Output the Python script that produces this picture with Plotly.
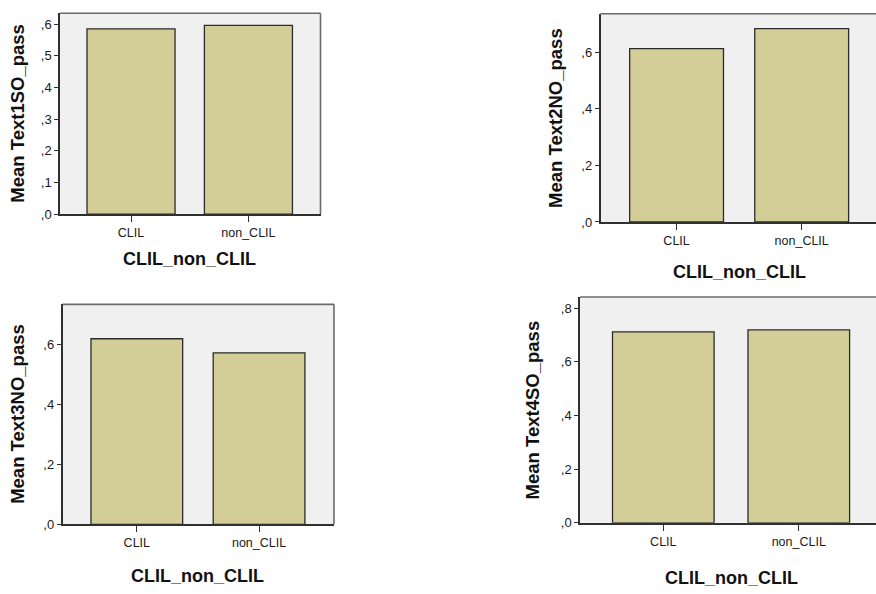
import plotly.graph_objects as go

W, H = 876, 594

categories = ["CLIL", "non_CLIL"]
text1_means = [0.585, 0.596]
text2_means = [0.612, 0.683]
text3_means = [0.620, 0.573]
text4_means = [0.712, 0.719]
y_titles = ["Mean Text1SO_pass", "Mean Text2NO_pass", "Mean Text3NO_pass", "Mean Text4SO_pass"]
x_title = "CLIL_non_CLIL"
tick_sets = [
    [0, 0.1, 0.2, 0.3, 0.4, 0.5, 0.6],
    [0, 0.2, 0.4, 0.6],
    [0, 0.2, 0.4, 0.6],
    [0, 0.2, 0.4, 0.6, 0.8],
]
series = [text1_means, text2_means, text3_means, text4_means]

# panel geometry in pixels: left, right, top, bottom, xrange, ymax, ytitle_x, xtitle_y, right_border
panels = [
    dict(l=60, r=320.5, t=13.5, b=217, xr=[-0.605, 1.614], ymax=0.634, ytx=18, xty=263, rb=True),
    dict(l=600.5, r=876, t=14, b=225, xr=[-0.608, 1.594], ymax=0.735, ytx=556, xty=276, rb=False),
    dict(l=62.5, r=334, t=308.5, b=531.5, xr=[-0.608, 1.613], ymax=0.735, ytx=17.5, xty=584, rb=True),
    dict(l=580, r=876, t=301, b=530, xr=[-0.615, 1.570], ymax=0.842, ytx=532.5, xty=586, rb=False),
]

BAR = "#d3ce98"
BG = "#f0f0f0"
FONT = "Arial, Liberation Sans, sans-serif"

def px_x(v):
    return v / W

def px_y(v):
    return 1 - v / H

fig = go.Figure()
layout = dict(
    width=W, height=H, margin=dict(l=0, r=0, t=0, b=0),
    paper_bgcolor="white", plot_bgcolor=BG, showlegend=False,
    font=dict(family=FONT, color="#1a1a1a", size=12),
)
shapes = []
annotations = []

for i, (p, vals, yt, ticks) in enumerate(zip(panels, series, y_titles, tick_sets)):
    n = "" if i == 0 else str(i + 1)
    xa, ya = "x" + n, "y" + n
    fig.add_trace(go.Bar(
        x=categories, y=vals, xaxis=xa, yaxis=ya, width=0.75,
        marker=dict(color=BAR, line=dict(color="#2b2b2b", width=1.3)),
        hoverinfo="x+y",
    ))
    layout["xaxis" + n] = dict(
        domain=[px_x(p["l"]), px_x(p["r"])], anchor=ya, type="category",
        range=p["xr"], showgrid=False, zeroline=False,
        showline=True, linecolor="#303030", linewidth=1.5,
        ticks="outside", ticklen=6, tickcolor="#303030", tickwidth=1.3,
        tickfont=dict(size=12.5, family=FONT, color="#1a1a1a"), fixedrange=True,
    )
    layout["yaxis" + n] = dict(
        domain=[px_y(p["b"]), px_y(p["t"])], anchor=xa,
        range=[0, p["ymax"]], showgrid=False, zeroline=False,
        showline=True, linecolor="#303030", linewidth=1.5,
        ticks="outside", ticklen=4, tickcolor="#303030", tickwidth=1.3,
        tickvals=ticks, ticktext=["," + str(int(round(t * 10))) for t in ticks],
        tickfont=dict(size=13, family=FONT, color="#1a1a1a"), fixedrange=True,
    )
    # top border
    shapes.append(dict(type="line", xref=xa + " domain", yref=ya + " domain",
                       x0=0, x1=1, y0=1, y1=1, line=dict(color="#6a6a6a", width=1.6)))
    if p["rb"]:
        shapes.append(dict(type="line", xref=xa + " domain", yref=ya + " domain",
                           x0=1, x1=1, y0=0, y1=1, line=dict(color="#6a6a6a", width=1.6)))
    annotations.append(dict(
        text=yt, xref="paper", yref="paper", x=px_x(p["ytx"]), y=px_y((p["t"] + p["b"]) / 2),
        textangle=-90, showarrow=False, xanchor="center", yanchor="middle",
        font=dict(size=18.5, family=FONT, color="#111111", weight="bold"),
    ))
    span = p["xr"][1] - p["xr"][0]
    mid = p["l"] + (0.5 - p["xr"][0]) / span * (p["r"] - p["l"])
    annotations.append(dict(
        text=x_title, xref="paper", yref="paper", x=px_x(mid), y=px_y(p["xty"]),
        showarrow=False, xanchor="center", yanchor="middle",
        font=dict(size=18, family=FONT, color="#111111", weight="bold"),
    ))

layout["shapes"] = shapes
layout["annotations"] = annotations
fig.update_layout(**layout)

fig.write_html("out.html")
